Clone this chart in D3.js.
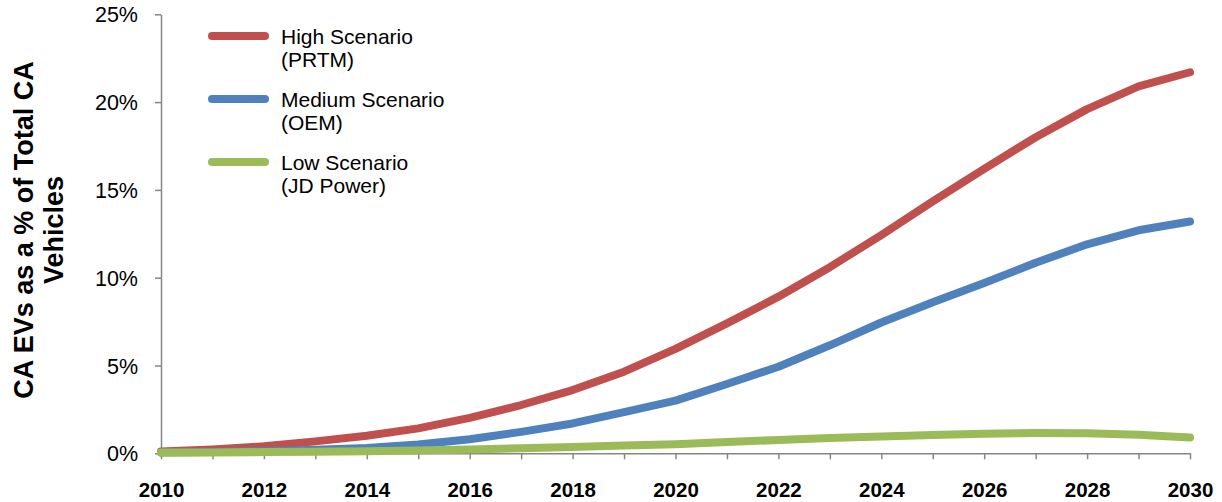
<!DOCTYPE html>
<html>
<head>
<meta charset="utf-8">
<script src="https://cdn.jsdelivr.net/npm/d3@7"></script>
<style>
  html, body { margin: 0; padding: 0; background: #fff; }
  svg { display: block; font-family: "Liberation Sans", Arial, sans-serif; }
</style>
</head>
<body>
<svg id="chart" width="1222" height="502"></svg>
<script>
// Years on the horizontal axis
const years = d3.range(2010, 2031);

// EV share of all California vehicles, percent
const highPRTM = [0.10, 0.22, 0.40, 0.68, 1.00, 1.42, 2.02, 2.75, 3.60, 4.65, 5.95,
                  7.40, 8.92, 10.60, 12.43, 14.35, 16.20, 18.00, 19.60, 20.90, 21.70];
const mediumOEM = [0.05, 0.08, 0.12, 0.20, 0.30, 0.50, 0.80, 1.22, 1.70, 2.35, 3.00,
                   3.95, 4.93, 6.15, 7.45, 8.60, 9.70, 10.85, 11.90, 12.70, 13.20];
const lowJD = [0.04, 0.05, 0.07, 0.09, 0.12, 0.16, 0.22, 0.29, 0.36, 0.44, 0.52,
               0.64, 0.76, 0.87, 0.96, 1.04, 1.12, 1.16, 1.14, 1.05, 0.90];

const seriesNames = ["High Scenario", "Medium Scenario", "Low Scenario"];
const seriesSources = ["(PRTM)", "(OEM)", "(JD Power)"];
const seriesColors = ["#C0504D", "#4F81BD", "#9BBB59"];
const seriesValues = [highPRTM, mediumOEM, lowJD];

const yTicks = [0, 5, 10, 15, 20, 25];
const xLabelYears = d3.range(2010, 2031, 2);

const svg = d3.select("#chart");
const plotLeft = 161, plotRight = 1190, plotTop = 14.3, plotBottom = 453.3;

const x = d3.scaleLinear().domain([2010, 2030]).range([plotLeft, plotRight]);
const y = d3.scaleLinear().domain([0, 25]).range([plotBottom, plotTop]);
const axisColor = "#868686";

// Y axis
const yAxis = svg.append("g")
  .attr("transform", `translate(${plotLeft},0)`)
  .call(d3.axisLeft(y).tickValues(yTicks).tickSize(6).tickSizeOuter(0)
        .tickFormat(d => d + "%"));
yAxis.select(".domain").attr("stroke", axisColor).attr("stroke-width", 1.5);
yAxis.selectAll(".tick line").attr("stroke", axisColor).attr("stroke-width", 1.5);
yAxis.selectAll(".tick text")
  .attr("x", -23).attr("dy", "0.35em")
  .attr("fill", "#000").style("font-size", "21.5px")
  .style("font-family", "Liberation Sans, Arial, sans-serif");

// X axis
const xAxis = svg.append("g")
  .attr("transform", `translate(0,${plotBottom})`)
  .call(d3.axisBottom(x).tickValues(years).tickSize(6).tickSizeOuter(0)
        .tickFormat(d => xLabelYears.includes(d) ? String(d) : ""));
xAxis.select(".domain").attr("stroke", axisColor).attr("stroke-width", 1.5);
xAxis.selectAll(".tick line").attr("stroke", axisColor).attr("stroke-width", 1.5);
xAxis.selectAll(".tick text")
  .attr("y", 43.5).attr("dy", "0")
  .attr("fill", "#000").style("font-size", "20.5px").style("font-weight", "bold")
  .style("font-family", "Liberation Sans, Arial, sans-serif");

// Series lines
const line = d3.line()
  .x((d, i) => x(years[i]))
  .y(d => y(d))
  .curve(d3.curveLinear);

seriesValues.forEach((vals, k) => {
  svg.append("path")
    .datum(vals)
    .attr("fill", "none")
    .attr("stroke", seriesColors[k])
    .attr("stroke-width", 8)
    .attr("stroke-linecap", "round")
    .attr("stroke-linejoin", "round")
    .attr("d", line);
});

// Legend
const legend = svg.append("g");
seriesNames.forEach((name, k) => {
  const ly = 36 + k * 63;
  legend.append("line")
    .attr("x1", 212).attr("x2", 265)
    .attr("y1", ly).attr("y2", ly)
    .attr("stroke", seriesColors[k])
    .attr("stroke-width", 8)
    .attr("stroke-linecap", "round");
  const t = legend.append("text")
    .attr("x", 281).attr("y", ly + 8)
    .style("font-size", "21px").attr("fill", "#000");
  t.append("tspan").attr("x", 281).text(name);
  t.append("tspan").attr("x", 281).attr("dy", 23).text(seriesSources[k]);
});

// Y axis title
const title = svg.append("text")
  .attr("transform", "translate(0,230) rotate(-90)")
  .attr("text-anchor", "middle")
  .style("font-size", "27px").style("font-weight", "bold")
  .attr("fill", "#000");
title.append("tspan").attr("x", 0).attr("y", 33).text("CA EVs as a % of Total CA");
title.append("tspan").attr("x", 0).attr("y", 63).text("Vehicles");
</script>
</body>
</html>
